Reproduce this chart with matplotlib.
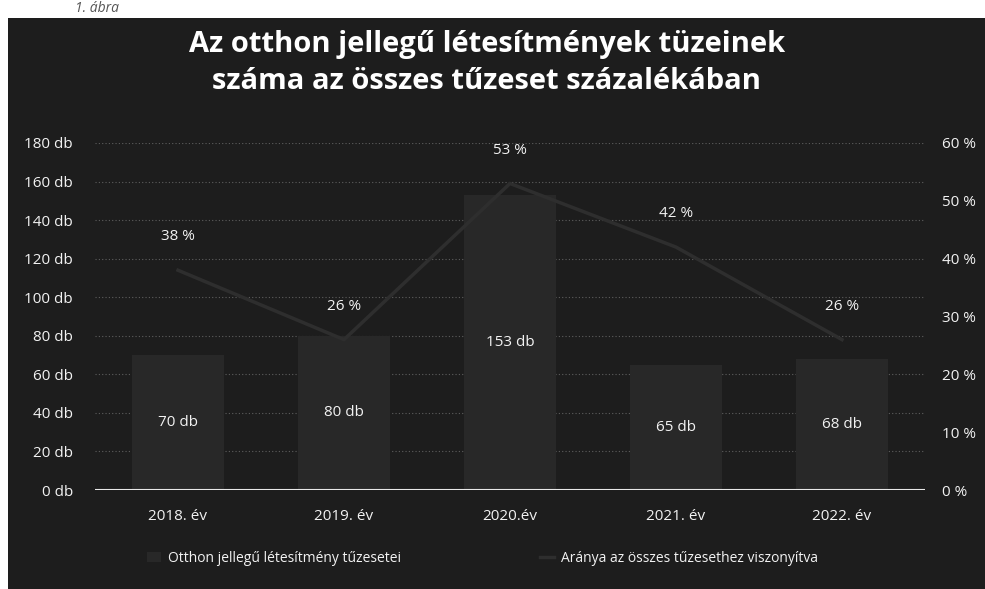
import matplotlib.pyplot as plt
from matplotlib.patches import Rectangle
from matplotlib.lines import Line2D

years = ["2018. év", "2019. év", "2020.év", "2021. év", "2022. év"]
fires = [70, 80, 153, 65, 68]          # db
ratio = [0.38, 0.26, 0.53, 0.42, 0.26]  # share of all fires

bg = "#1d1d1d"
bar_c = "#282828"
line_c = "#2e2e2e"
txt = "#f2f2f2"
plt.rcParams["font.family"] = ["Open Sans", "DejaVu Sans"]

fig = plt.figure(figsize=(9.85, 5.89), dpi=100)
fig.patch.set_facecolor("white")
# dark chart area of the scan
bgax = fig.add_axes([8 / 985, 0, 1 - 8 / 985, 1 - 18 / 589], zorder=-5)
bgax.set_facecolor(bg)
bgax.set_xticks([])
bgax.set_yticks([])
for s in bgax.spines.values():
    s.set_visible(False)

fig.text(75 / 985, 1 - 8 / 589, "1. ábra", ha="left", va="center", fontsize=10,
         style="italic", color="#555555")

ax = fig.add_axes([95 / 985, 1 - 490 / 589, 830 / 985, 347 / 589])
ax.set_facecolor("none")
x = range(len(years))

ax.bar(x, fires, width=0.55, color=bar_c, zorder=2)
for xi, v in zip(x, fires):
    ax.text(xi, v / 2, f"{v} db", ha="center", va="center", color=txt, fontsize=11, zorder=5)

ax.set_ylim(0, 180)
ax.set_xlim(-0.5, len(years) - 0.5)
ax.set_yticks(range(0, 181, 20))
ax.set_yticklabels([f"{v} db" for v in range(0, 181, 20)])
ax.set_xticks(list(x))
ax.set_xticklabels(years)
ax.tick_params(axis="both", colors=txt, labelsize=11, length=0)
ax.tick_params(axis="x", pad=14)
ax.tick_params(axis="y", pad=16)
ax.grid(axis="y", color="#5e5e5e", linestyle=(0, (1, 2)), linewidth=0.8, zorder=1)
ax.set_axisbelow(True)
for s in ax.spines.values():
    s.set_visible(False)
ax.axhline(0, color="#e8e8e8", linewidth=1.5, zorder=4)

ax2 = ax.twinx()
ax2.set_ylim(0, 0.6)
ax2.plot(list(x), ratio, color=line_c, linewidth=2.5, zorder=3)
for xi, r in zip(x, ratio):
    ax2.annotate(f"{round(r * 100)} %", (xi, r), xytext=(0, 24), textcoords="offset points",
                 ha="center", va="center", color=txt, fontsize=11)
ax2.set_yticks([i / 10 for i in range(7)])
ax2.set_yticklabels([f"{i * 10} %" for i in range(7)])
ax2.tick_params(axis="y", colors=txt, labelsize=11, length=0, pad=12)
for s in ax2.spines.values():
    s.set_visible(False)

fig.text(0.494, 1 - 63 / 589, "Az otthon jellegű létesítmények tüzeinek\nszáma az összes tűzeset százalékában",
         ha="center", va="center", color="white", fontsize=21, fontweight="bold",
         linespacing=1.35)

handles = [Rectangle((0, 0), 1, 1, facecolor=bar_c),
           Line2D([], [], color=line_c, linewidth=2.5)]
fig.legend(handles, ["Otthon jellegű létesítmény tűzesetei", "Aránya az összes tűzesethez viszonyítva"],
           loc="center", bbox_to_anchor=(0.49, 1 - 558 / 589), ncol=2, frameon=False,
           labelcolor=txt, fontsize=10, columnspacing=10, handlelength=1.0, handletextpad=0.5)

fig.savefig("out.png", dpi=100, facecolor=fig.get_facecolor())
